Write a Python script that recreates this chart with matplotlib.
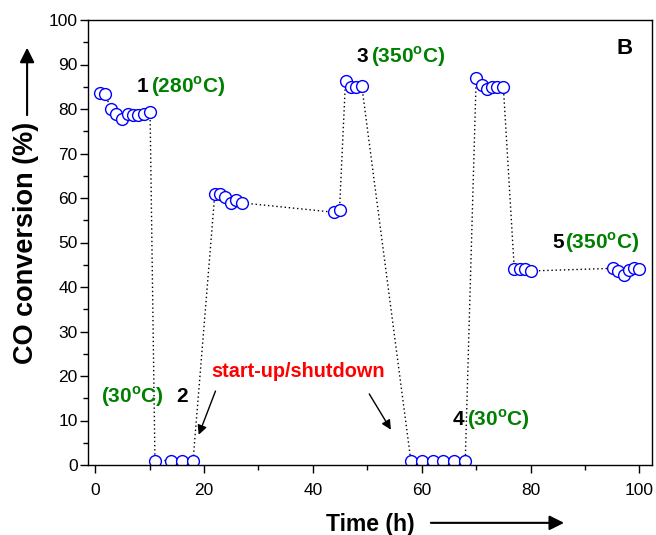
import matplotlib
matplotlib.use("Agg")
import matplotlib.pyplot as plt

plt.rcParams["font.family"] = ["Liberation Sans", "DejaVu Sans"]
plt.rcParams["mathtext.fontset"] = "custom"
plt.rcParams["mathtext.rm"] = "Liberation Sans"
plt.rcParams["mathtext.bf"] = "Liberation Sans:bold"

# time on stream (h) and CO conversion (%)
tiempo = [0.9, 1.9, 2.9, 3.9, 4.9, 6.0, 6.9, 7.9, 9.0, 10.1,
          11.0, 13.9, 16.0, 18.0,
          22.0, 22.9, 23.9, 25.0, 25.9, 27.0, 43.9, 44.9,
          46.0, 47.0, 48.0, 49.0,
          58.0, 60.0, 62.1, 64.0, 66.0, 68.0,
          70.0, 71.0, 72.0, 72.9, 73.9, 75.0,
          77.0, 78.0, 78.9, 80.0,
          95.2, 96.1, 97.1, 98.0, 99.0, 100.0]
conversion = [83.6, 83.3, 80.0, 78.9, 77.8, 78.9, 78.6, 78.6, 78.9, 79.4,
              1.0, 1.0, 1.0, 1.0,
              61.0, 60.8, 60.2, 58.9, 59.5, 58.9, 56.8, 57.3,
              86.4, 85.0, 85.0, 85.1,
              1.0, 1.0, 1.0, 1.0, 1.0, 1.0,
              86.9, 85.4, 84.4, 85.0, 85.0, 84.9,
              44.1, 44.1, 44.1, 43.6,
              44.2, 43.6, 42.8, 43.9, 44.2, 44.0]

fig = plt.figure(figsize=(6.56, 5.35), dpi=100)
ax = fig.add_axes([88 / 656, 70 / 535, 564 / 656, 445 / 535])

ax.plot(tiempo, conversion, color="black", lw=1, linestyle=(0, (1, 2)), zorder=1)
ax.plot(tiempo, conversion, linestyle="none", marker="o", ms=8.5, mfc="white",
        mec="blue", mew=1, zorder=2)

ax.set_xlim(-1.3, 102.3)
ax.set_ylim(0, 100)
ax.set_xticks([0, 20, 40, 60, 80, 100])
ax.set_xticks([10, 30, 50, 70, 90], minor=True)
ax.set_yticks(range(0, 101, 10))
ax.set_yticks(range(5, 100, 10), minor=True)
ax.tick_params(which="major", length=6, width=1, labelsize=12.5, direction="out")
ax.tick_params(which="minor", length=3.5, width=1, direction="out")
ax.tick_params(axis="x", which="major", pad=7)
ax.tick_params(axis="y", which="major", pad=1.5)
for s in ax.spines.values():
    s.set_linewidth(1)

ax.set_xlabel("Time (h)", fontsize=16.5, fontweight="bold", labelpad=11)
ax.set_ylabel("CO conversion (%)", fontsize=19.5, fontweight="bold", labelpad=7)

# flechas de los ejes
ax.annotate("", xy=(0.849, -0.130), xytext=(0.603, -0.130), xycoords="axes fraction",
            arrowprops=dict(arrowstyle="-|>", lw=1.5, color="black", mutation_scale=22),
            annotation_clip=False)
ax.annotate("", xy=(-0.108, 0.944), xytext=(-0.108, 0.780), xycoords="axes fraction",
            arrowprops=dict(arrowstyle="-|>", lw=1.5, color="black", mutation_scale=22),
            annotation_clip=False)

# etiquetas
verde = "#008000"
fs = 15
ax.text(7.6, 85, "1", fontsize=fs, fontweight="bold", va="center")
ax.text(10.2, 85, r"(280$^{\mathbf{o}}$C)", fontsize=fs, fontweight="bold", color=verde, va="center")
ax.text(48.0, 91.7, "3", fontsize=fs, fontweight="bold", va="center")
ax.text(50.6, 91.7, r"(350$^{\mathbf{o}}$C)", fontsize=fs, fontweight="bold", color=verde, va="center")
ax.text(1.1, 15.3, r"(30$^{\mathbf{o}}$C)", fontsize=fs, fontweight="bold", color=verde, va="center")
ax.text(15.0, 15.3, "2", fontsize=fs, fontweight="bold", va="center")
ax.text(65.6, 10.2, "4", fontsize=fs, fontweight="bold", va="center")
ax.text(68.3, 10.2, r"(30$^{\mathbf{o}}$C)", fontsize=fs, fontweight="bold", color=verde, va="center")
ax.text(84.0, 50.0, "5", fontsize=fs, fontweight="bold", va="center")
ax.text(86.4, 50.0, r"(350$^{\mathbf{o}}$C)", fontsize=fs, fontweight="bold", color=verde, va="center")
ax.text(95.7, 93.6, "B", fontsize=16, fontweight="bold", va="center")
ax.text(37.3, 21.1, "start-up/shutdown", fontsize=14.3, fontweight="bold", color="red",
        ha="center", va="center")

ax.annotate("", xy=(18.85, 6.2), xytext=(22.3, 17.2),
            arrowprops=dict(arrowstyle="-|>", lw=1, color="black", mutation_scale=14))
ax.annotate("", xy=(54.6, 7.4), xytext=(50.1, 16.5),
            arrowprops=dict(arrowstyle="-|>", lw=1, color="black", mutation_scale=14))

fig.savefig("out.png", dpi=100)
plt.close(fig)
